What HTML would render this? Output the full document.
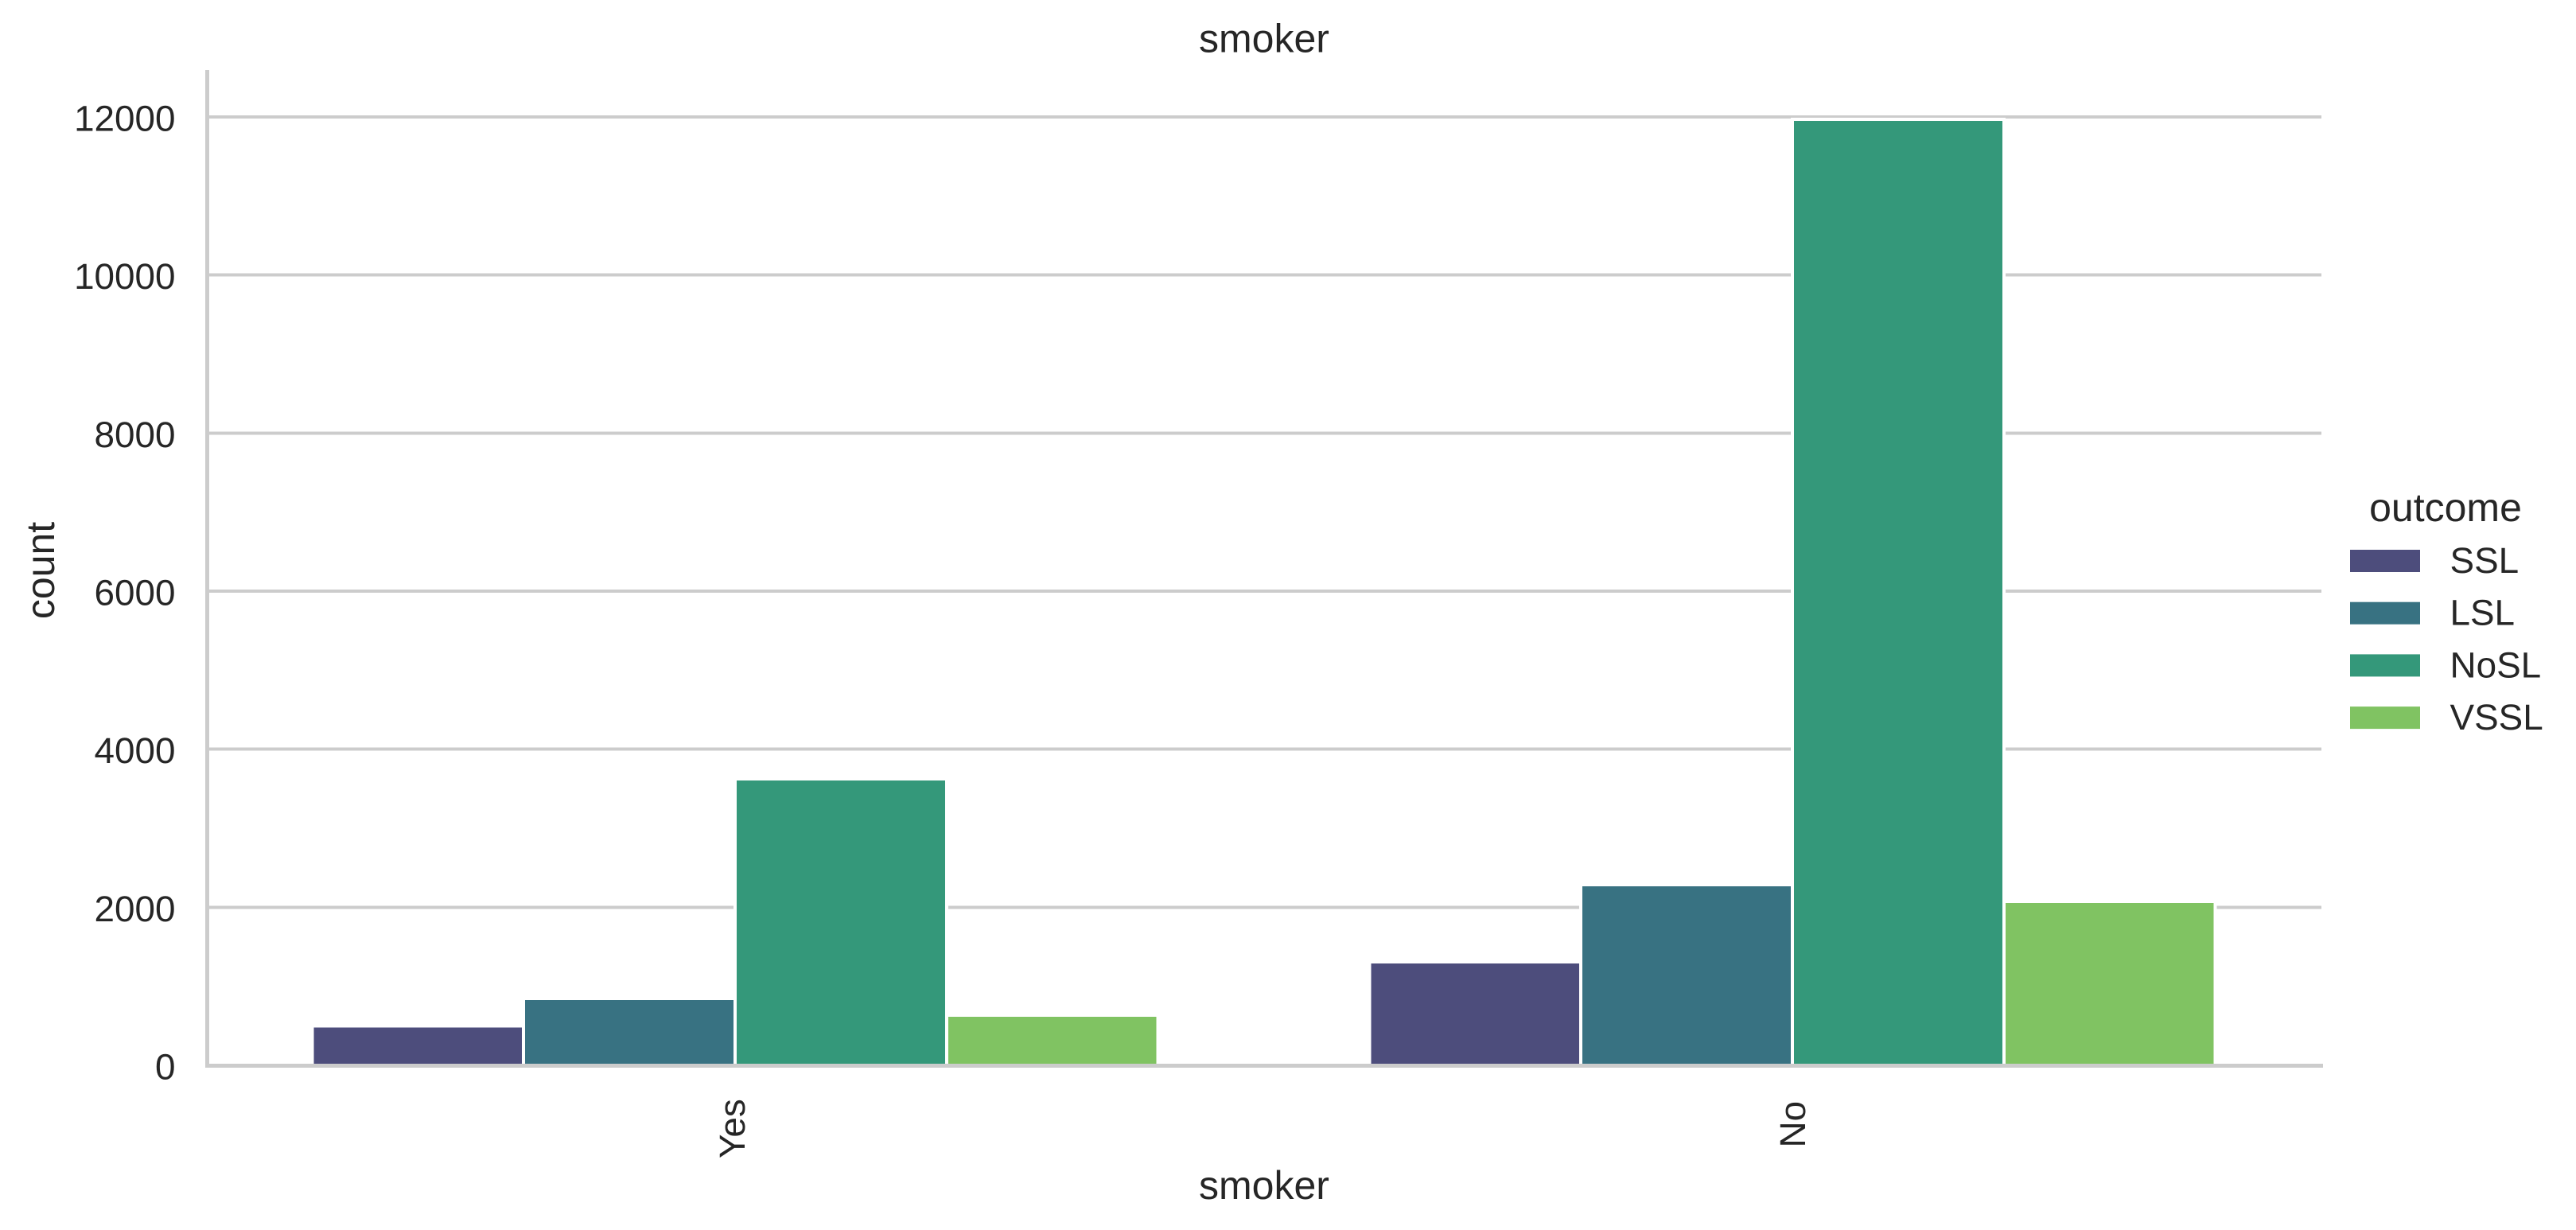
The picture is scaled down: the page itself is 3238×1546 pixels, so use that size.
<!DOCTYPE html>
<html lang="en">
<head>
<meta charset="utf-8">
<title>smoker count by outcome</title>
<style>
html,body{margin:0;padding:0;background:#fff;width:3238px;height:1546px;overflow:hidden}
svg{display:block}
text{font-family:"Liberation Sans",Arial,sans-serif;fill:#262626}
</style>
</head>
<body>
<svg id="chart" xmlns="http://www.w3.org/2000/svg" width="3238" height="1546" viewBox="0 0 3238 1546">
  <rect x="0" y="0" width="3238" height="1546" fill="#ffffff"/>
  <g id="grid" shape-rendering="crispEdges"></g>
  <g id="bars" shape-rendering="crispEdges"></g>
  <g id="spines" shape-rendering="crispEdges">
    <rect x="258" y="88" width="5" height="1254" fill="#cccccc"/>
    <rect x="258" y="1337" width="2662" height="5" fill="#cccccc"/>
  </g>
  <g id="yticks"></g>
  <g id="xticks"></g>
  <text x="1589" y="65.5" font-size="50" text-anchor="middle">smoker</text>
  <text x="1589" y="1507" font-size="50" text-anchor="middle">smoker</text>
  <text transform="translate(68,717) rotate(-90)" font-size="50" text-anchor="middle">count</text>
  <g id="legend">
    <text x="3074" y="655" font-size="50" text-anchor="middle">outcome</text>
  </g>
</svg>
<script>
const categories = ["Yes", "No"];
const outcomes = ["SSL", "LSL", "NoSL", "VSSL"];
const ssl = [496, 1309];
const lsl = [846, 2285];
const noSl = [3624, 11970];
const vssl = [634, 2074];
const yTicks = [0, 2000, 4000, 6000, 8000, 10000, 12000];
const barColors = ["#4d4d7c", "#387282", "#34987a", "#80c362"];

const seriesValues = [ssl, lsl, noSl, vssl];
const SVG_NS = "http://www.w3.org/2000/svg";
const plotLeft = 259.5, plotRight = 2917.5, plotBottom = 1339, plotTop = 147;
const catStep = (plotRight - plotLeft) / categories.length;
const barWidth = catStep * 0.8 / outcomes.length;

function xCenter(i) { return plotLeft + catStep * (i + 0.5); }
function xBar(cat, hue) { return xCenter(cat) - barWidth * outcomes.length / 2 + hue * barWidth; }
function yScale(v) { return plotBottom - (plotBottom - plotTop) * v / 12000; }
function make(tag, attrs, parent, content) {
  const el = document.createElementNS(SVG_NS, tag);
  for (const k in attrs) el.setAttribute(k, attrs[k]);
  if (content !== undefined) el.textContent = content;
  parent.appendChild(el);
  return el;
}

const gridGroup = document.getElementById("grid");
const yTickGroup = document.getElementById("yticks");
yTicks.forEach(function (t) {
  const y = yScale(t);
  const line = make("line", { x1: 260, x2: plotRight + 0.5, y1: y, y2: y, stroke: "#cccccc", "stroke-width": 4 }, gridGroup);
  
  
  const label = make("text", { x: 220.5, y: y + 17.5, "font-size": 45.83, "text-anchor": "end" }, yTickGroup, String(t));
  
  
});

const barGroup = document.getElementById("bars");
seriesValues.forEach(function (values, h) {
  values.forEach(function (v, c) {
    const y = yScale(v);
    const bar = make("rect", { x: xBar(c, h), y: y, width: barWidth, height: plotBottom - y, fill: barColors[h], stroke: "#ffffff", "stroke-width": 4 }, barGroup);
    
    
  });
});

const xTickGroup = document.getElementById("xticks");
categories.forEach(function (name, i) {
  const label = make("text", { transform: "translate(" + (xCenter(i) + (name.length === 3 ? 12 : 16)) + "," + (name.length === 3 ? 1456 : 1442.5) + ") rotate(-90)", "font-size": 45.83 }, xTickGroup, name);
  
  
});

const legendGroup = document.getElementById("legend");
outcomes.forEach(function (name, i) {
  const top = 691 + i * 65.7;
  const swatch = make("rect", { x: 2954, y: top, width: 88, height: 28, fill: barColors[i] }, legendGroup);
  
  
  const label = make("text", { x: 3079.5, y: top + 29, "font-size": 45.83 }, legendGroup, name);
  
  
});
</script>
</body>
</html>
